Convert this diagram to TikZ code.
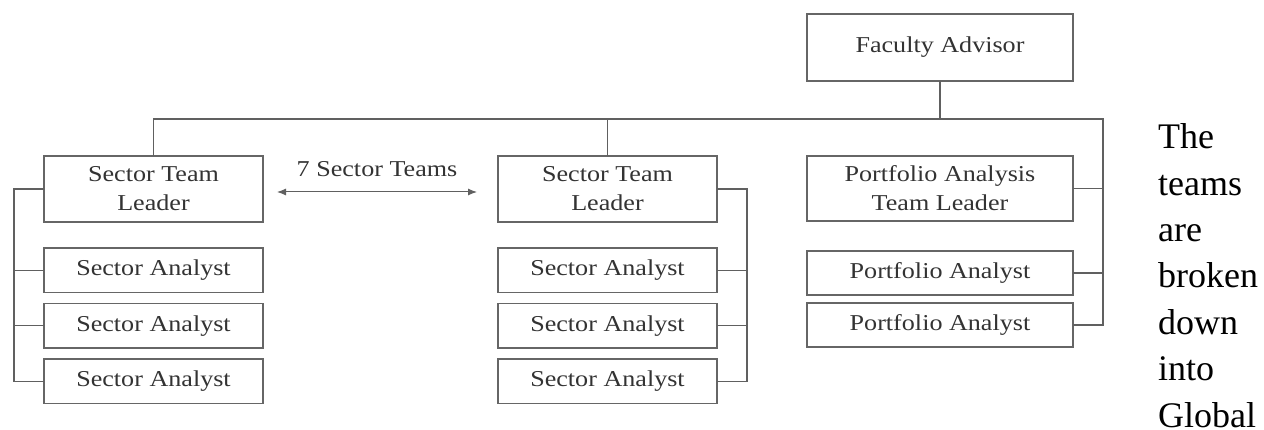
\documentclass[tikz,border=0pt]{standalone}
\usepackage{fontspec}
\setmainfont{Liberation Serif}
\newfontfamily\orgfont[FakeStretch=1.15]{Liberation Serif}
\usetikzlibrary{arrows.meta, positioning}

\begin{document}
\begin{tikzpicture}[
  x=1pt, y=1pt,
  node distance=11pt,
  box/.style={rectangle, draw=gray!80!black, line width=1.4pt, fill=white, inner sep=0pt, outer sep=0pt, align=center, text=black!80, font=\orgfont\fontsize{22.7}{29}\selectfont},
  leader/.style={box, minimum width=219pt, minimum height=66pt},
  analyst/.style={box, minimum width=219pt, minimum height=44.5pt},
  pfbox/.style={box, minimum width=266pt, minimum height=44pt},
  link/.style={draw=gray!75!black, line width=1.4pt},
  twoway/.style={{Latex[length=9pt,width=7pt]}-{Latex[length=9pt,width=7pt]}, draw=gray!75!black, line width=1pt},
]
\useasboundingbox (0,0) rectangle (1264,-430);

% Top level: faculty advisor
\node[box, minimum width=266pt, minimum height=67pt] (advisor) at (940,-47.5) {Faculty Advisor};

% Team leaders
\node[leader] (lead1) at (153.5,-189) {Sector Team\\Leader};
\node[leader] (lead2) at (607.5,-189) {Sector Team\\Leader};
\node[leader, minimum width=266pt, minimum height=65pt] (pflead) at (940,-188.5) {Portfolio Analysis\\Team Leader};

% Sector analysts
\node[analyst, below=26pt of lead1] (sa1a) {Sector Analyst};
\node[analyst, below=of sa1a] (sa1b) {Sector Analyst};
\node[analyst, below=of sa1b] (sa1c) {Sector Analyst};

\node[analyst, below=26pt of lead2] (sa2a) {Sector Analyst};
\node[analyst, below=of sa2a] (sa2b) {Sector Analyst};
\node[analyst, below=of sa2b] (sa2c) {Sector Analyst};

% Portfolio analysts
\node[pfbox, below=30pt of pflead] (pa1) {Portfolio Analyst};
\node[pfbox, below=8pt of pa1] (pa2) {Portfolio Analyst};

% Bus and spines
\coordinate (busR) at (1103,-119);
\coordinate (spineL) at (14,-187);
\coordinate (spineM) at (747,-187);

\draw[link] (advisor.south) -- (advisor.south |- busR);
\draw[link] (lead1.north) |- (busR) |- (pa2.east);
\draw[link] (lead2.north) -- (lead2.north |- busR);
\draw[link] (pflead.east) -- (pflead.east -| busR);
\draw[link] (pa1.east) -- (pa1.east -| busR);

\draw[link] (lead1.west) -- (lead1.west -| spineL) |- (sa1c.west);
\foreach \n in {sa1a, sa1b}
  \draw[link] (\n.west) -- (\n.west -| spineL);

\draw[link] (lead2.east) -- (lead2.east -| spineM) |- (sa2c.east);
\foreach \n in {sa2a, sa2b}
  \draw[link] (\n.east) -- (\n.east -| spineM);

% Between the sector teams
\draw[twoway] ([xshift=14pt, yshift=-3pt]lead1.east) -- node[midway, above=15pt, inner sep=0pt, font=\orgfont\fontsize{22.7}{29}\selectfont, text=black!80] (count) {7 Sector Teams} ([xshift=-21pt, yshift=-3pt]lead2.west);

% Running text beside the chart
\node[anchor=north west, inner sep=0pt, align=left, font=\fontsize{36}{46.4}\selectfont] (note) at (1158,-123.5) {The\\teams\\are\\broken\\down\\into\\Global};

\end{tikzpicture}
\end{document}
